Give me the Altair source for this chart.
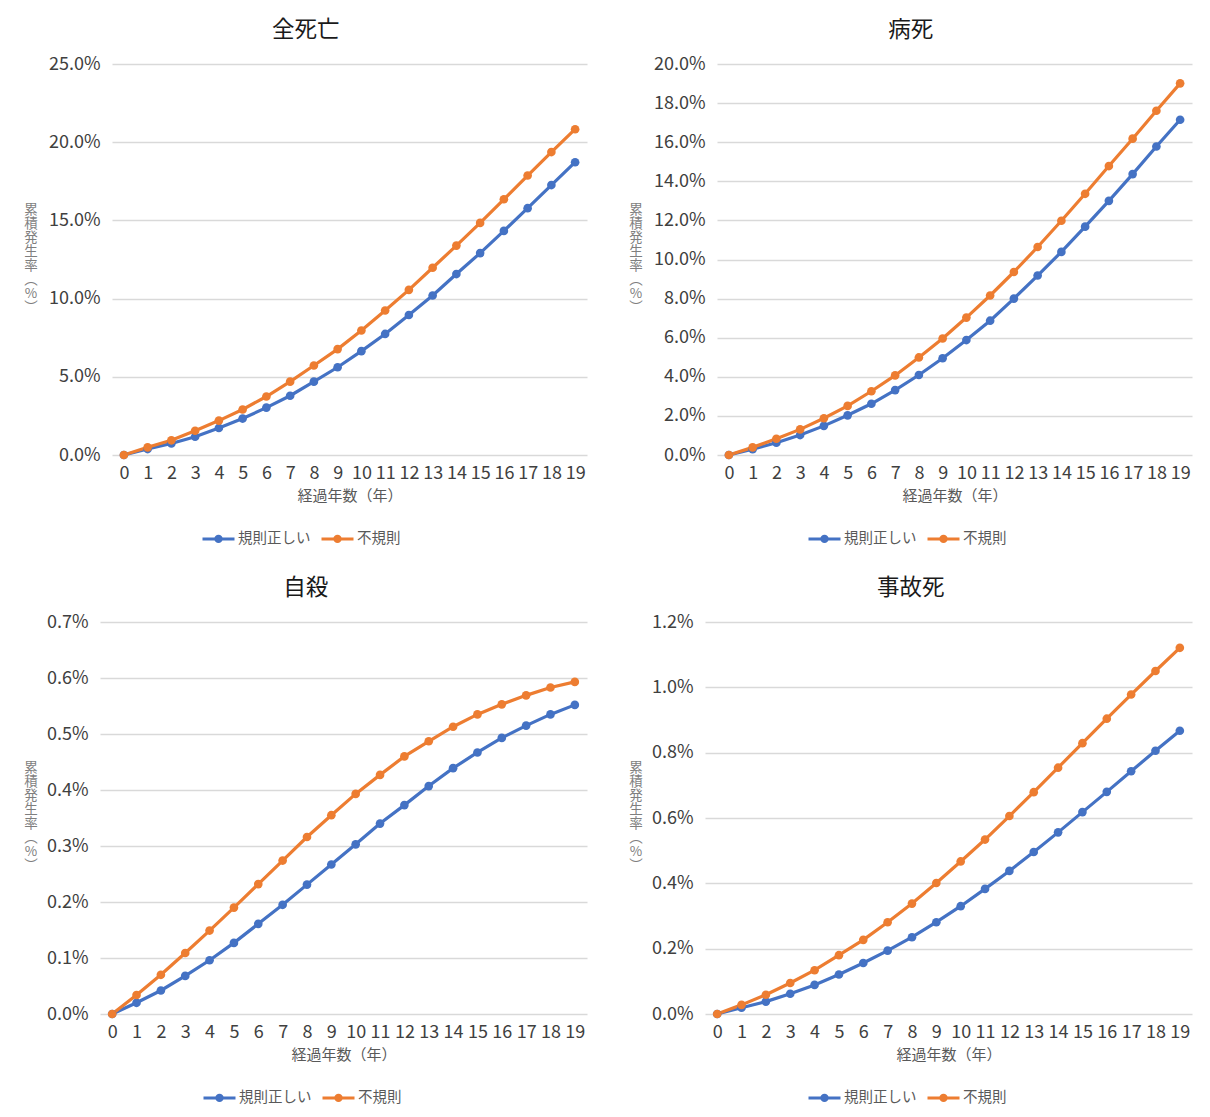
import altair as alt
import pandas as pd

years = list(range(20))
series_names = ["規則正しい", "不規則"]
series_colors = ["#4472C4", "#ED7D31"]

titles = ["全死亡", "病死", "自殺", "事故死"]

all_regular = [0, 0.38, 0.74, 1.17, 1.73, 2.33, 3.03, 3.79, 4.69, 5.61, 6.64, 7.74, 8.95, 10.20, 11.57, 12.91, 14.33, 15.78, 17.26, 18.72]
all_irregular = [0, 0.49, 0.94, 1.55, 2.20, 2.91, 3.74, 4.69, 5.72, 6.77, 7.96, 9.24, 10.56, 11.97, 13.39, 14.84, 16.35, 17.87, 19.37, 20.83]

disease_regular = [0, 0.30, 0.63, 1.02, 1.49, 2.03, 2.62, 3.32, 4.09, 4.95, 5.88, 6.87, 8.00, 9.18, 10.39, 11.68, 13.00, 14.37, 15.78, 17.15]
disease_irregular = [0, 0.39, 0.83, 1.31, 1.88, 2.51, 3.26, 4.07, 4.99, 5.96, 7.03, 8.16, 9.36, 10.64, 11.98, 13.36, 14.78, 16.18, 17.61, 19.01]

suicide_regular = [0, 0.020, 0.042, 0.068, 0.096, 0.127, 0.161, 0.195, 0.231, 0.267, 0.303, 0.340, 0.373, 0.407, 0.439, 0.467, 0.493, 0.515, 0.535, 0.552]
suicide_irregular = [0, 0.034, 0.070, 0.109, 0.149, 0.190, 0.232, 0.274, 0.316, 0.355, 0.393, 0.427, 0.460, 0.487, 0.513, 0.535, 0.553, 0.569, 0.583, 0.593]

accident_regular = [0, 0.019, 0.038, 0.062, 0.089, 0.121, 0.156, 0.194, 0.235, 0.281, 0.330, 0.383, 0.438, 0.496, 0.556, 0.618, 0.680, 0.743, 0.806, 0.867]
accident_irregular = [0, 0.028, 0.059, 0.095, 0.134, 0.180, 0.227, 0.281, 0.338, 0.401, 0.467, 0.534, 0.606, 0.679, 0.754, 0.829, 0.904, 0.978, 1.050, 1.121]

ticks_all = [0, 5, 10, 15, 20, 25]
ticks_disease = [0, 2, 4, 6, 8, 10, 12, 14, 16, 18, 20]
ticks_suicide = [0, 0.1, 0.2, 0.3, 0.4, 0.5, 0.6, 0.7]
ticks_accident = [0, 0.2, 0.4, 0.6, 0.8, 1.0, 1.2]

y_title = ["累", "積", "発", "生", "率", "︵", "%", "︶"]
x_title = "経過年数（年）"

FONT = "Noto Sans CJK JP"
LEGEND_SYMBOL = "M-1,0H1M0.17,0A0.17,0.17,0,1,1,-0.17,0A0.17,0.17,0,1,1,0.17,0"


def panel(title, regular, irregular, ticks, width, height, title_x, legend_x, legend_y):
    df = pd.DataFrame({
        "year": years + years,
        "value": regular + irregular,
        "series": [series_names[0]] * len(years) + [series_names[1]] * len(years),
    })
    lines = alt.Chart(df).mark_line(
        strokeWidth=3.2,
        point=alt.OverlayMarkDef(filled=True, size=75),
    ).encode(
        x=alt.X("year:O", title=x_title,
                scale=alt.Scale(type="point", padding=0.5),
                axis=alt.Axis(labelAngle=0, labelOverlap=False)),
        y=alt.Y("value:Q", title=None,
                scale=alt.Scale(domain=[ticks[0], ticks[-1]], nice=False, zero=True),
                axis=alt.Axis(values=ticks,
                              labelExpr="format(datum.value, '.1f') + '%'")),
        color=alt.Color("series:N", sort=series_names,
                        scale=alt.Scale(domain=series_names, range=series_colors),
                        legend=alt.Legend(title=None, orient="none", direction="horizontal",
                                          legendX=legend_x, legendY=legend_y)),
    )
    ytitle = alt.Chart(pd.DataFrame({"t": [0]})).mark_text(
        font=FONT, fontSize=13.5, lineHeight=14, color="#7f7f7f",
        align="center", baseline="top",
    ).encode(
        x=alt.value(title_x), y=alt.value(139), text=alt.value(y_title),
    )
    return alt.layer(lines, ytitle, title=alt.Title(title)).properties(width=width, height=height)


c1 = panel(titles[0], all_regular, all_irregular, ticks_all, 475, 391, -81, 89, 457)
c2 = panel(titles[1], disease_regular, disease_irregular, ticks_disease, 475, 391, -81, 90, 457)
c3 = panel(titles[2], suicide_regular, suicide_irregular, ticks_suicide, 487, 392, -69, 102, 458)
c4 = panel(titles[3], accident_regular, accident_irregular, ticks_accident, 487, 392, -69, 102, 458)

# empty zero-size cell that lets the top row start 12px to the right of the bottom row
spacer = alt.Chart(pd.DataFrame({"s": [0]})).mark_point(size=0, opacity=0).properties(width=0, height=0)

inner1 = alt.hconcat(c1, c2, spacing=42).resolve_scale(y="independent", color="independent").resolve_legend(color="independent")
row1 = alt.concat(spacer, inner1, columns=2, spacing=-96).properties(align="none")
row2 = alt.hconcat(c3, c4, spacing=42).resolve_scale(y="independent", color="independent").resolve_legend(color="independent")

chart = alt.vconcat(row1, row2, spacing=28).resolve_scale(
    y="independent", color="independent"
).resolve_legend(color="independent").properties(
    padding={"left": 16, "top": 10, "right": 4, "bottom": 4},
).configure(
    font=FONT,
).configure_view(
    stroke=None
).configure_title(
    font=FONT, fontSize=22.5, fontWeight="normal", color="#1a1a1a",
    anchor="middle", frame="bounds", offset=14,
).configure_axis(
    labelFont=FONT, titleFont=FONT, labelColor="#404040", titleColor="#595959",
    labelFontSize=18, titleFontSize=15, titleFontWeight="normal",
    domain=False, ticks=False,
).configure_axisY(
    grid=True, gridColor="#d9d9d9", gridWidth=1.3, labelPadding=12,
).configure_axisX(
    grid=False, labelPadding=9, titlePadding=6,
).configure_legend(
    labelFont=FONT, labelFontSize=14.5, labelColor="#595959",
    symbolType=LEGEND_SYMBOL, symbolSize=1024, symbolStrokeWidth=3,
    columnPadding=4, labelOffset=2, padding=0,
)

chart.save("out.html", embed_options={"renderer": "svg", "actions": False})
